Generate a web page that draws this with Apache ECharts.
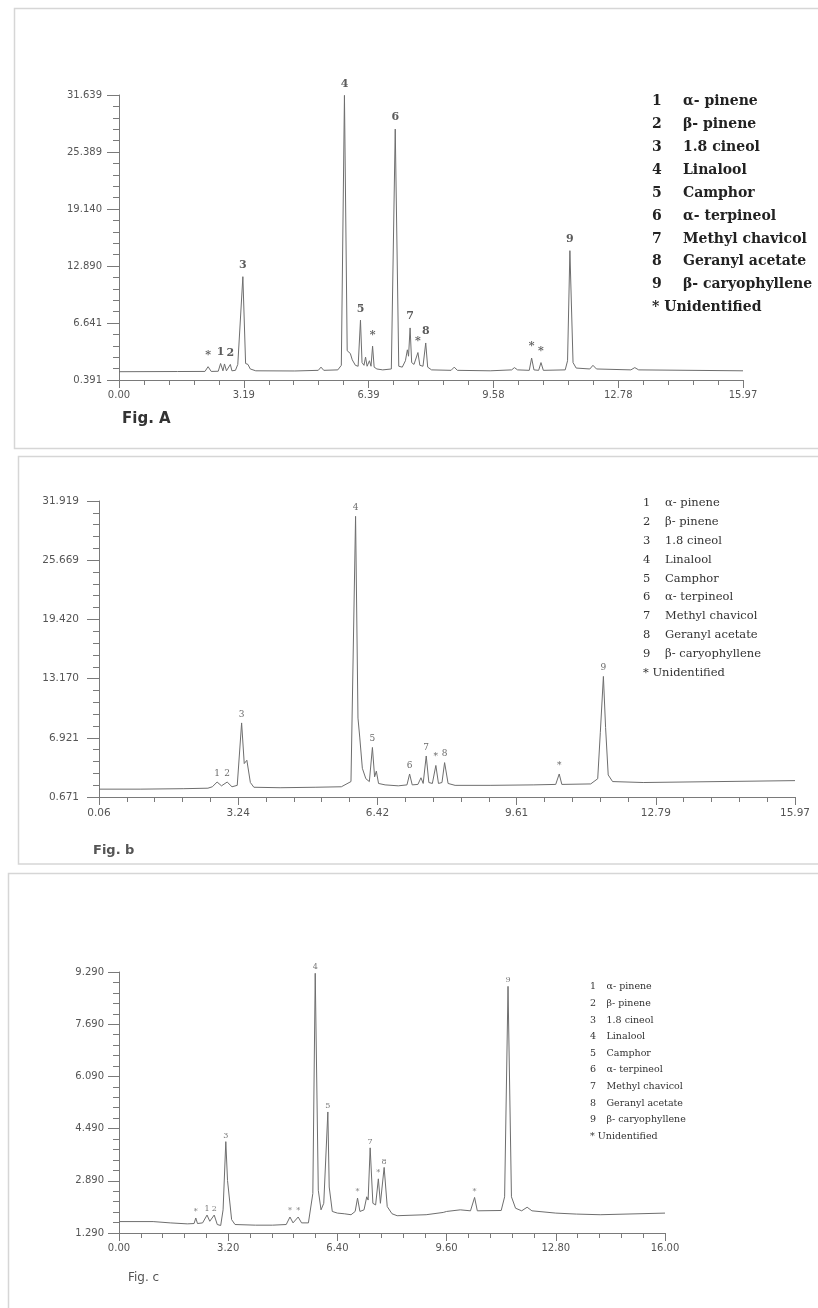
<!DOCTYPE html>
<html><head><meta charset="utf-8">
<script src="https://cdn.jsdelivr.net/npm/echarts@6/dist/echarts.min.js"></script>
<style>html,body{margin:0;padding:0;background:#fff}#c{width:818px;height:1308px}</style>
</head><body><div id="c"></div><script>
// ---------- shared legend ----------
const legendNum = ['1','2','3','4','5','6','7','8','9'];
const legendName = ['α- pinene','β- pinene','1.8 cineol','Linalool','Camphor','α- terpineol','Methyl chavicol','Geranyl acetate','β- caryophyllene'];
const legendExtra = '* Unidentified';

// ---------- Fig. A ----------
const xTicksA = ['0.00','3.19','6.39','9.58','12.78','15.97'];
const yTicksA = ['0.391','6.641','12.890','19.140','25.389','31.639'];
const traceTimeA = [0.00,1.50,2.20,2.36,2.54,2.66,2.70,2.75,2.80,2.89,2.98,3.04,3.09,3.24,3.30,3.36,3.50,4.50,5.10,5.17,5.24,5.60,5.69,5.84,5.92,5.97,6.05,6.12,6.22,6.27,6.31,6.35,6.41,6.45,6.53,6.60,6.75,6.97,7.16,7.25,7.33,7.38,7.41,7.49,7.55,7.70,7.78,7.90,8.00,8.50,8.58,8.66,9.50,10.05,10.12,10.20,10.50,10.62,10.74,10.86,11.42,11.48,11.62,11.70,12.05,12.13,12.22,13.10,13.20,13.30,15.97];
const traceValA  = [1.30,1.32,1.33,1.33,1.35,1.40,2.15,1.40,1.40,1.40,1.45,2.10,1.90,2.20,2.10,1.60,1.40,1.38,1.45,1.80,1.45,1.50,2.00,3.60,3.30,2.60,2.00,1.90,2.30,2.00,2.90,1.90,2.50,1.90,1.80,1.60,1.50,1.60,1.90,1.80,2.50,3.70,3.00,2.30,2.10,2.00,1.90,1.80,1.50,1.45,1.80,1.45,1.40,1.50,1.75,1.50,1.45,1.50,1.45,1.45,1.50,2.50,2.30,1.70,1.60,2.00,1.60,1.50,1.75,1.50,1.40];
const peakTimeA = [2.28,2.60,2.85,3.17,5.77,6.18,6.49,7.07,7.45,7.65,7.85,10.56,10.80,11.54];
const peakValA  = [1.85,2.20,2.10,11.72,31.60,6.95,4.10,27.90,6.10,3.40,4.45,2.80,2.30,14.57];
const peakTagA  = ['*','1','2','3','4','5','*','6','7','*','8','*','*','9'];

// ---------- Fig. b ----------
const xTicksB = ['0.06','3.24','6.42','9.61','12.79','15.97'];
const yTicksB = ['0.671','6.921','13.170','19.420','25.669','31.919'];
const traceTimeB = [0.06,1.00,2.00,2.55,2.65,2.86,3.10,3.22,3.38,3.44,3.52,3.60,4.20,5.00,5.60,5.82,5.98,6.02,6.08,6.16,6.24,6.36,6.40,6.45,6.60,6.90,7.10,7.22,7.35,7.42,7.47,7.60,7.68,7.82,7.90,8.04,8.20,9.00,10.00,10.50,10.64,11.30,11.46,11.52,11.64,11.70,11.80,12.50,15.97];
const traceValB  = [1.50,1.50,1.55,1.60,1.75,1.85,1.75,1.90,4.20,4.55,2.20,1.70,1.65,1.70,1.75,2.30,9.00,7.00,3.70,2.60,2.30,2.80,3.40,2.10,1.95,1.85,1.95,1.95,2.00,2.70,2.10,2.20,2.10,2.10,2.20,2.10,1.90,1.90,1.95,2.00,2.00,2.05,2.60,7.50,8.00,3.00,2.30,2.20,2.40];
const peakTimeB = [2.76,2.99,3.32,5.925,6.31,7.16,7.54,7.76,7.96,10.58,11.59];
const peakValB  = [2.25,2.25,8.49,30.30,5.90,3.10,5.00,4.00,4.30,3.10,13.40];
const peakTagB  = ['1','2','3','4','5','6','7','*','8','*','9'];

// ---------- Fig. c ----------
const xTicksC = ['0.00','3.20','6.40','9.60','12.80','16.00'];
const yTicksC = ['1.290','2.890','4.490','6.090','7.690','9.290'];
const traceTimeC = [0.00,1.00,1.50,2.00,2.20,2.30,2.45,2.66,2.88,2.98,3.05,3.18,3.23,3.30,3.40,4.00,4.50,4.90,5.10,5.35,5.55,5.68,5.84,5.92,6.00,6.16,6.19,6.25,6.40,6.60,6.80,6.92,7.06,7.18,7.26,7.30,7.44,7.52,7.66,7.86,8.00,8.15,9.00,9.50,9.60,10.00,10.05,10.30,10.50,11.20,11.30,11.50,11.62,11.80,11.96,12.10,12.80,13.40,14.10,16.00];
const traceValC  = [1.64,1.64,1.60,1.57,1.58,1.58,1.60,1.65,1.55,1.52,2.00,2.90,2.91,1.70,1.55,1.53,1.53,1.55,1.60,1.60,1.60,2.50,2.60,2.00,2.20,2.70,2.70,1.95,1.90,1.88,1.85,1.95,1.95,2.00,2.40,2.30,2.20,2.15,2.20,2.10,1.88,1.82,1.85,1.92,1.95,2.00,2.03,1.97,1.97,1.98,2.40,2.40,2.05,1.97,2.08,1.97,1.90,1.87,1.85,1.90];
const peakTimeC = [2.25,2.58,2.79,3.13,5.01,5.25,5.75,6.12,6.99,7.36,7.60,7.77,10.42,11.40];
const peakValC  = [1.75,1.84,1.84,4.09,1.78,1.78,9.25,5.00,2.36,3.90,2.95,3.30,2.38,8.85];
const peakTagC  = ['*','1','2','3','*','*','4','5','*','7','*','8','*','9'];

// ---------- builders ----------
function axisInfo(ticks) {
  const a = parseFloat(ticks[0]), b = parseFloat(ticks[ticks.length - 1]);
  const n = ticks.length - 1;
  const step = +((b - a) / n).toFixed(6);
  return { origin: a, step: step, max: +(step * n).toFixed(6), labels: ticks };
}
function buildTrace(tt, tv, pt, pv, ax, ay) {
  const pts = [];
  tt.forEach((t, i) => pts.push([t, tv[i]]));
  pt.forEach((t, i) => pts.push([t, pv[i]]));
  pts.sort((p, q) => p[0] - q[0]);
  return pts.map(p => [+(p[0] - ax.origin).toFixed(4), +(p[1] - ay.origin).toFixed(4)]);
}
const axisColor = '#7a7a7a';
function mkX(ax, gi, fs, margin) {
  return {
    type: 'value', gridIndex: gi, min: 0, max: ax.max, interval: ax.step,
    axisLine: { show: true, onZero: false, lineStyle: { color: axisColor, width: 1 } },
    axisTick: { show: true, length: 8, lineStyle: { color: axisColor } },
    minorTick: { show: true, splitNumber: 5, length: 5, lineStyle: { color: axisColor } },
    splitLine: { show: false }, minorSplitLine: { show: false },
    axisLabel: { margin: margin, color: '#555', fontSize: fs, fontFamily: 'DejaVu Sans',
      formatter: v => ax.labels[Math.round(v / ax.step)] }
  };
}
function mkY(ay, gi, fs, margin, tickLen) {
  return {
    type: 'value', gridIndex: gi, min: 0, max: ay.max, interval: ay.step,
    axisLine: { show: true, onZero: false, lineStyle: { color: axisColor, width: 1 } },
    axisTick: { show: true, length: tickLen, lineStyle: { color: axisColor } },
    minorTick: { show: true, splitNumber: 5, length: 6, lineStyle: { color: axisColor } },
    splitLine: { show: false }, minorSplitLine: { show: false },
    axisLabel: { margin: margin, color: '#555', fontSize: fs, fontFamily: 'DejaVu Sans',
      formatter: v => ay.labels[Math.round(v / ay.step)] }
  };
}
function lineSeries(gi, data) {
  return { type: 'line', xAxisIndex: gi, yAxisIndex: gi, data: data, showSymbol: false,
    symbol: 'none', clip: false, lineStyle: { color: '#6e6e6e', width: 1 }, silent: true, z: 3 };
}
function tagSeries(gi, pt, pv, tags, ax, ay, lab) {
  return { type: 'scatter', xAxisIndex: gi, yAxisIndex: gi, symbolSize: 0, silent: true, clip: false,
    itemStyle: { color: 'transparent' },
    data: pt.map((t, i) => ({ name: tags[i], value: [+(t - ax.origin).toFixed(4), +(pv[i] - ay.origin).toFixed(4)] })),
    label: Object.assign({ show: true, position: 'top', formatter: '{b}', fontFamily: 'DejaVu Serif' }, lab), z: 4 };
}

const axA = axisInfo(xTicksA), ayA = axisInfo(yTicksA);
const axB = axisInfo(xTicksB), ayB = axisInfo(yTicksB);
const axC = axisInfo(xTicksC), ayC = axisInfo(yTicksC);

// ---------- legend graphics ----------
const graphics = [];
graphics.push({ type: 'rect', shape: { x: 14.5, y: 8.5, width: 900, height: 440 }, style: { fill: 'none', stroke: '#d6d6d6', lineWidth: 1.5 }, silent: true });
graphics.push({ type: 'rect', shape: { x: 18.5, y: 456.5, width: 900, height: 407.5 }, style: { fill: 'none', stroke: '#d6d6d6', lineWidth: 1.5 }, silent: true });
graphics.push({ type: 'rect', shape: { x: 8.5, y: 873.5, width: 900, height: 600 }, style: { fill: 'none', stroke: '#d6d6d6', lineWidth: 1.5 }, silent: true });

function addLegend(numX, nameX, y0, dy, font, color) {
  legendNum.forEach((n, i) => {
    graphics.push({ type: 'text', x: numX, y: y0 + i * dy, silent: true,
      style: { text: n, font: font, fill: color, verticalAlign: 'middle', align: 'left' } });
    graphics.push({ type: 'text', x: nameX, y: y0 + i * dy, silent: true,
      style: { text: legendName[i], font: font, fill: color, verticalAlign: 'middle', align: 'left' } });
  });
  graphics.push({ type: 'text', x: numX, y: y0 + legendNum.length * dy, silent: true,
    style: { text: legendExtra, font: font, fill: color, verticalAlign: 'middle', align: 'left' } });
}
addLegend(652, 683, 101.5, 22.9, 'bold 14px "DejaVu Serif"', '#222');
addLegend(643, 665, 503.5, 18.8, '11.5px "DejaVu Serif"', '#333');
addLegend(590, 606.5, 987, 16.6, '9.5px "DejaVu Serif"', '#333');

graphics.push({ type: 'text', x: 122, y: 419, silent: true, style: { text: 'Fig. A', font: 'bold 15px "DejaVu Sans"', fill: '#333', verticalAlign: 'middle' } });
graphics.push({ type: 'text', x: 93, y: 851, silent: true, style: { text: 'Fig. b', font: 'bold 13px "DejaVu Sans"', fill: '#555', verticalAlign: 'middle' } });
graphics.push({ type: 'text', x: 128, y: 1278, silent: true, style: { text: 'Fig. c', font: '12px "DejaVu Sans"', fill: '#555', verticalAlign: 'middle' } });

const chart = echarts.init(document.getElementById('c'), null, { renderer: 'canvas' });
chart.setOption({
  backgroundColor: '#fff',
  animation: false,
  grid: [
    { left: 119, top: 95, width: 624, height: 285 },
    { left: 99, top: 501, width: 696, height: 296 },
    { left: 119, top: 972, width: 546, height: 261 }
  ],
  xAxis: [mkX(axA, 0, 10, 10), mkX(axB, 1, 10.5, 11), mkX(axC, 2, 10, 10)],
  yAxis: [mkY(ayA, 0, 10, 17, 12), mkY(ayB, 1, 10.5, 20, 12), mkY(ayC, 2, 10, 15, 11)],
  series: [
    lineSeries(0, buildTrace(traceTimeA, traceValA, peakTimeA, peakValA, axA, ayA)),
    tagSeries(0, peakTimeA, peakValA, peakTagA, axA, ayA, { fontSize: 11, fontWeight: 'bold', color: '#333', distance: 6 }),
    lineSeries(1, buildTrace(traceTimeB, traceValB, peakTimeB, peakValB, axB, ayB)),
    tagSeries(1, peakTimeB, peakValB, peakTagB, axB, ayB, { fontSize: 9, color: '#444', distance: 4 }),
    lineSeries(2, buildTrace(traceTimeC, traceValC, peakTimeC, peakValC, axC, ayC)),
    tagSeries(2, peakTimeC, peakValC, peakTagC, axC, ayC, { fontSize: 8, color: '#555', distance: 2 })
  ],
  graphic: graphics
});
</script></body></html>
